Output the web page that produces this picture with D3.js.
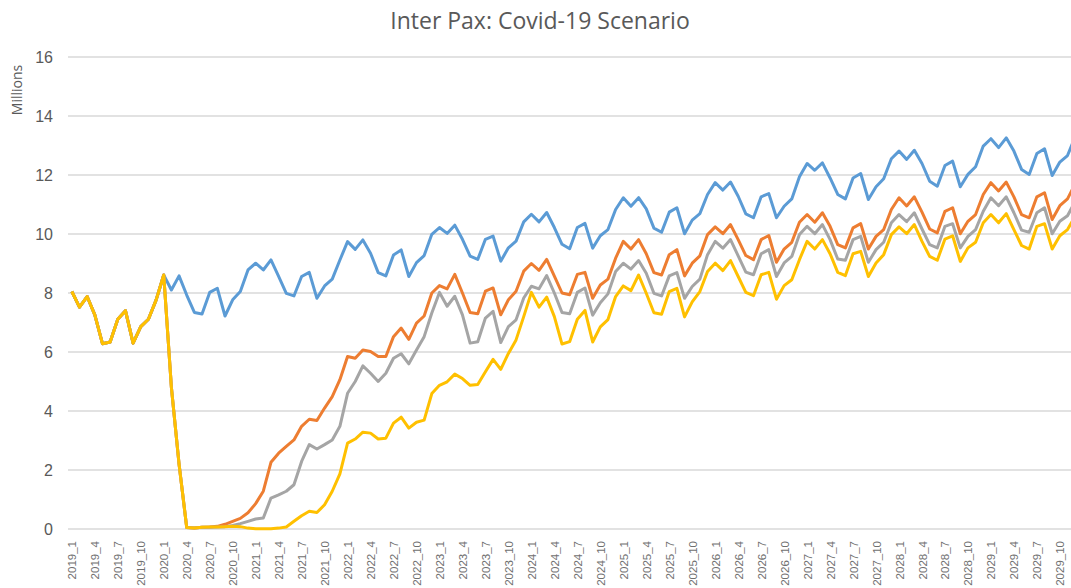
<!DOCTYPE html>
<html>
<head>
<meta charset="utf-8">
<script src="https://cdn.jsdelivr.net/npm/d3@7"></script>
<style>
    body { margin: 0; background: #fff; }
    svg { display: block; font-family: "Open Sans", "Liberation Sans", sans-serif; }
</style>
</head>
<body>
<div id="chart"></div>
<script>
var width = 1071;
var height = 588;

// categories: 2019_1 .. 2029_12
var years = [2019, 2020, 2021, 2022, 2023, 2024, 2025, 2026, 2027, 2028, 2029];
var months = [1, 2, 3, 4, 5, 6, 7, 8, 9, 10, 11, 12];
var categories = [];
for (let y of years)
    for (let m of months)
        categories.push(y + "_" + m);

var yTicks = [0, 2, 4, 6, 8, 10, 12, 14, 16];

// shared actuals 2019_1 .. 2020_1
var actuals = [8.05, 7.52, 7.88, 7.26, 6.28, 6.34, 7.11, 7.40, 6.30, 6.86, 7.11, 7.76, 8.61];

var baseline = actuals.concat([
    8.10, 8.58, 7.93, 7.34, 7.29, 8.02, 8.16, 7.22, 7.77, 8.05, 8.78,
    9.01, 8.78, 9.12, 8.56, 7.99, 7.90, 8.56, 8.70, 7.82, 8.24, 8.47, 9.12,
    9.74, 9.48, 9.80, 9.35, 8.69, 8.58, 9.29, 9.46, 8.56, 9.03, 9.27, 9.99,
    10.22, 10.02, 10.30, 9.82, 9.25, 9.14, 9.82, 9.93, 9.08, 9.53, 9.76, 10.41,
    10.67, 10.41, 10.73, 10.22, 9.65, 9.50, 10.22, 10.36, 9.52, 9.94, 10.15, 10.83,
    11.23, 10.94, 11.23, 10.85, 10.20, 10.06, 10.74, 10.89, 10.01, 10.47, 10.69, 11.34,
    11.74, 11.49, 11.76, 11.28, 10.68, 10.55, 11.26, 11.37, 10.55, 10.94, 11.19, 11.94,
    12.39, 12.16, 12.41, 11.90, 11.34, 11.19, 11.90, 12.05, 11.17, 11.60, 11.87, 12.55,
    12.81, 12.53, 12.84, 12.39, 11.79, 11.62, 12.32, 12.47, 11.60, 12.02, 12.28, 12.98,
    13.23, 12.93, 13.26, 12.81, 12.19, 12.02, 12.73, 12.89, 11.98, 12.44, 12.66, 13.30
]);

var scenarioA = actuals.concat([
    4.80, 2.20, 0.05, 0.03, 0.06, 0.07, 0.09, 0.16, 0.26, 0.36, 0.55,
    0.86, 1.28, 2.26, 2.57, 2.80, 3.02, 3.48, 3.72, 3.68, 4.10, 4.49, 5.06,
    5.85, 5.79, 6.07, 6.02, 5.85, 5.85, 6.52, 6.81, 6.43, 6.98, 7.22, 8.00,
    8.25, 8.14, 8.63, 8.00, 7.34, 7.30, 8.06, 8.17, 7.26, 7.77, 8.06, 8.74,
    9.00, 8.77, 9.14, 8.57, 8.00, 7.94, 8.63, 8.70, 7.82, 8.27, 8.47, 9.18,
    9.75, 9.49, 9.81, 9.33, 8.69, 8.61, 9.30, 9.47, 8.58, 9.01, 9.26, 9.98,
    10.24, 10.01, 10.32, 9.81, 9.27, 9.13, 9.81, 9.95, 9.04, 9.49, 9.72, 10.40,
    10.66, 10.40, 10.72, 10.26, 9.64, 9.53, 10.21, 10.35, 9.49, 9.92, 10.15, 10.83,
    11.23, 10.95, 11.26, 10.74, 10.17, 10.04, 10.77, 10.89, 10.01, 10.43, 10.66, 11.34,
    11.74, 11.46, 11.76, 11.26, 10.66, 10.55, 11.26, 11.40, 10.49, 10.96, 11.19, 11.70
]);

var scenarioB = actuals.concat([
    4.80, 2.20, 0.05, 0.03, 0.06, 0.06, 0.07, 0.08, 0.12, 0.18, 0.26,
    0.34, 0.37, 1.05, 1.16, 1.28, 1.50, 2.29, 2.86, 2.71, 2.86, 3.02, 3.48,
    4.60, 5.00, 5.53, 5.28, 5.00, 5.28, 5.79, 5.94, 5.60, 6.07, 6.52, 7.32,
    8.02, 7.55, 7.89, 7.26, 6.30, 6.35, 7.15, 7.38, 6.32, 6.86, 7.09, 7.83,
    8.23, 8.14, 8.59, 8.00, 7.34, 7.30, 8.02, 8.17, 7.25, 7.67, 7.97, 8.73,
    9.01, 8.81, 9.10, 8.67, 7.99, 7.90, 8.58, 8.69, 7.82, 8.22, 8.47, 9.30,
    9.75, 9.52, 9.81, 9.26, 8.71, 8.62, 9.33, 9.47, 8.56, 9.02, 9.24, 9.98,
    10.26, 10.01, 10.32, 9.81, 9.15, 9.11, 9.81, 9.92, 9.04, 9.47, 9.72, 10.38,
    10.66, 10.42, 10.72, 10.17, 9.64, 9.53, 10.26, 10.35, 9.53, 9.92, 10.15, 10.77,
    11.23, 10.96, 11.26, 10.72, 10.13, 10.06, 10.72, 10.89, 10.01, 10.43, 10.62, 11.10
]);

var scenarioC = actuals.concat([
    4.80, 2.20, 0.05, 0.03, 0.06, 0.07, 0.07, 0.08, 0.09, 0.08, 0.03,
    0.01, 0.01, 0.01, 0.03, 0.07, 0.26, 0.45, 0.60, 0.56, 0.82, 1.28, 1.87,
    2.91, 3.05, 3.28, 3.25, 3.05, 3.08, 3.59, 3.79, 3.42, 3.62, 3.69, 4.59,
    4.87, 4.99, 5.25, 5.10, 4.87, 4.90, 5.33, 5.75, 5.41, 5.95, 6.41, 7.20,
    8.02, 7.52, 7.86, 7.20, 6.27, 6.35, 7.11, 7.41, 6.34, 6.85, 7.10, 7.88,
    8.24, 8.08, 8.61, 7.99, 7.33, 7.28, 8.05, 8.16, 7.19, 7.70, 8.05, 8.73,
    9.01, 8.76, 9.10, 8.56, 8.02, 7.91, 8.62, 8.70, 7.79, 8.25, 8.45, 9.13,
    9.75, 9.49, 9.81, 9.33, 8.70, 8.59, 9.33, 9.41, 8.56, 9.02, 9.30, 9.98,
    10.24, 10.01, 10.32, 9.75, 9.24, 9.11, 9.83, 9.94, 9.07, 9.53, 9.72, 10.38,
    10.66, 10.38, 10.69, 10.15, 9.61, 9.49, 10.26, 10.35, 9.49, 9.94, 10.15, 10.60
]);

var seriesList = [
    { values: baseline, color: "#5B9BD5" },
    { values: scenarioA, color: "#ED7D31" },
    { values: scenarioB, color: "#A5A5A5" },
    { values: scenarioC, color: "#FFC000" }
];

var plot = { left: 68, right: 1079, top: 57, bottom: 529 };

var svg = d3.select('#chart')
            .append('svg')
                .attr("width", width)
                .attr("height", height);

var xScale = d3.scalePoint()
                .domain(categories)
                .range([plot.left, plot.right])
                .padding(0.5);

var yScale = d3.scaleLinear()
                .domain([0, 16])
                .range([plot.bottom, plot.top]);

// gridlines
svg.append("g")
    .selectAll("line")
    .data(yTicks)
    .enter()
    .append("line")
        .attr("x1", plot.left)
        .attr("x2", width)
        .attr("y1", function(d){ return yScale(d); })
        .attr("y2", function(d){ return yScale(d); })
        .attr("stroke", "#d9d9d9")
        .attr("stroke-width", 1.3);

// y axis labels
var yAxis = svg.append("g")
    .attr("transform", "translate(" + (plot.left - 15) + ",0)")
    .call(d3.axisLeft(yScale).tickValues(yTicks).tickSize(0).tickPadding(0));
yAxis.select(".domain").remove();
yAxis.selectAll("text")
    .attr("fill", "#595959")
    .style("font-size", "16px");

// x axis labels, every third month
var xAxis = svg.append("g")
    .attr("transform", "translate(0," + (plot.bottom + 12) + ")")
    .call(d3.axisBottom(xScale)
            .tickValues(categories.filter(function(d, i){ return i % 3 == 0; }))
            .tickSize(0)
            .tickPadding(0));
xAxis.select(".domain").remove();
xAxis.selectAll("text")
    .attr("fill", "#6f6f6f")
    .style("font-size", "11.5px")
    .attr("transform", "rotate(-90)")
    .attr("x", 0)
    .attr("y", 0)
    .attr("dy", "0.35em")
    .attr("text-anchor", "end");

var lineFunc = d3.line()
                .x(function(d, i){ return xScale(categories[i]); })
                .y(function(d){ return yScale(d); });

svg.append("g")
    .selectAll("path")
    .data(seriesList)
    .enter()
    .append("path")
        .attr("d", function(s){ return lineFunc(s.values); })
        .attr("fill", "none")
        .attr("stroke", function(s){ return s.color; })
        .attr("stroke-width", 3)
        .attr("stroke-linejoin", "round");

// title
svg.append("text")
    .attr("x", 540)
    .attr("y", 29)
    .attr("text-anchor", "middle")
    .attr("fill", "#595959")
    .style("font-size", "23px")
    .text("Inter Pax: Covid-19 Scenario");

// unit label
svg.append("text")
    .attr("transform", "translate(22,90) rotate(-90)")
    .attr("text-anchor", "middle")
    .attr("fill", "#595959")
    .style("font-size", "14px")
    .text("Millions");
</script>
</body>
</html>
